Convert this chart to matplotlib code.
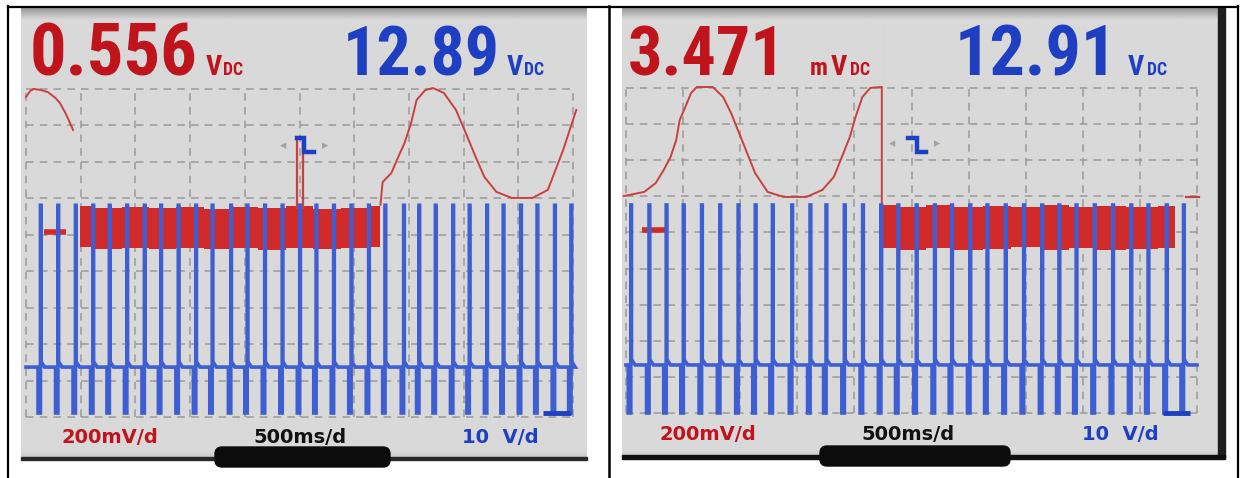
import numpy as np
import matplotlib
matplotlib.use("Agg")
import matplotlib.pyplot as plt
from matplotlib.patches import Rectangle, FancyBboxPatch
from matplotlib.textpath import TextPath
from matplotlib.font_manager import FontProperties, fontManager, weight_dict

# ---------------- data ----------------
TIME_PER_DIV = 0.5      # s / div
CH1_PER_DIV = 200.0     # mV / div (red channel)
CH2_PER_DIV = 10.0      # V / div (blue channel)
N_DIV_X, N_DIV_Y = 10, 9

left_ch1_reading = "0.556"
left_ch2_reading = "12.89"
right_ch1_reading = "3.471"
right_ch2_reading = "12.91"
scale_labels = ["200mV/d", "500ms/d", "10  V/d"]

# blue channel: times (s) of the injector events
left_events = [0.11, 0.27, 0.43, 0.59, 0.74, 0.90, 1.06, 1.21, 1.37, 1.53, 1.68,
               1.85, 2.00, 2.16, 2.32, 2.48, 2.63, 2.79, 2.95, 3.11, 3.26, 3.43,
               3.57, 3.72, 3.88, 4.03, 4.19, 4.34, 4.50, 4.65, 4.81, 4.96]
right_events = [0.02, 0.18, 0.33, 0.48, 0.64, 0.80, 0.96, 1.11, 1.26, 1.43, 1.59,
                1.73, 1.89, 2.05, 2.21, 2.36, 2.52, 2.68, 2.83, 2.99, 3.14, 3.30,
                3.46, 3.62, 3.77, 3.92, 4.08, 4.24, 4.40, 4.55, 4.71, 4.86]
left_blue_levels = (12.6, 57.0, 0.0)    # rest, spike top, low (V)
right_blue_levels = (13.3, 57.6, 0.0)

# red channel traces (s, mV)
left_red_arc_t = [0.00, 0.04, 0.07, 0.13, 0.20, 0.27, 0.31, 0.36, 0.39, 0.43]
left_red_arc_mv = [741, 775, 785, 780, 768, 735, 708, 653, 615, 560]
left_red_sine_t = [3.24, 3.26, 3.34, 3.39, 3.46, 3.52, 3.57, 3.65, 3.72, 3.82,
                   3.93, 4.02, 4.11, 4.19, 4.30, 4.44, 4.63, 4.77, 4.91, 5.03]
left_red_sine_mv = [150, 274, 324, 395, 488, 598, 724, 779, 790, 763,
                    670, 543, 412, 302, 220, 187, 187, 231, 450, 670]
left_band_t = [0.49, 0.75, 1.00, 1.25, 1.50, 1.75, 2.00, 2.25, 2.50, 2.75, 3.00, 3.24]
left_band_top = [140, 132, 138, 130, 136, 128, 137, 131, 140, 126, 133, 140]
left_band_bot = [-80, -92, -86, -96, -88, -93, -86, -100, -90, -96, -88, -84]
left_spike_t = [2.48, 2.48, 2.53, 2.53]
left_spike_mv = [130, 521, 521, 130]

right_red_t = [-0.02, 0.16, 0.26, 0.33, 0.39, 0.44, 0.47, 0.52, 0.57, 0.62, 0.76,
               0.85, 0.92, 0.99, 1.06, 1.13, 1.24, 1.38, 1.58, 1.72, 1.82, 1.89,
               1.96, 2.01, 2.07, 2.14, 2.23, 2.24, 2.24]
right_red_mv = [188, 211, 260, 332, 404, 499, 609, 682, 759, 792, 792,
                737, 648, 537, 427, 316, 211, 183, 183, 222, 294, 404,
                515, 626, 737, 787, 792, 792, 139]
right_band_t = [2.24, 2.50, 2.75, 3.00, 3.25, 3.50, 3.75, 4.00, 4.25, 4.50, 4.81]
right_band_top = [139, 128, 136, 125, 134, 127, 138, 126, 133, 128, 135]
right_band_bot = [-100, -110, -98, -112, -104, -96, -108, -100, -112, -104, -98]
right_red_tail_t = [4.90, 5.02]
right_red_tail_mv = [183, 183]

# ---------------- styling ----------------
W, H = 1241, 478
RED_TXT = '#c0141d'
BLUE_TXT = '#1f3fc2'
RED_TRACE = '#c9403f'
RED_BAND = '#d02a2a'
BLUE_TRACE = '#3e5ed3'
GRID = '#9a9a9a'

SANS_FAMILIES = ('DejaVu Sans', 'Liberation Sans', 'Noto Sans', 'Roboto', 'Open Sans', 'Lato', 'Inter')


def best_bold(sample="0.556", target_ratio=3.1):
    best = None
    for f in fontManager.ttflist:
        name = f.name
        if not name.startswith(SANS_FAMILIES):
            continue
        low = name.lower()
        if 'mono' in low or 'cjk' in low or 'serif' in low or 'display' in low:
            continue
        w = f.weight if isinstance(f.weight, (int, float)) else weight_dict.get(f.weight, 400)
        if w < 700 or w > 800 or f.style != 'normal':
            continue
        try:
            ext = TextPath((0, 0), sample, size=100, prop=FontProperties(fname=f.fname)).get_extents()
        except Exception:
            continue
        if ext.height <= 0 or ext.width <= 0:
            continue
        r = ext.width / ext.height
        score = abs(r - target_ratio)
        if best is None or score < best[0]:
            best = (score, f.fname)
    return FontProperties(fname=best[1]) if best else FontProperties(family='DejaVu Sans', weight='bold')


NARROW = best_bold()


def fit_size(s, width_px, height_px, prop):
    ext = TextPath((0, 0), s, size=100, prop=prop).get_extents()
    size_px = min(100 * width_px / ext.width, 100 * height_px / ext.height)
    return size_px * 0.72  # px -> pt at 100 dpi


fig = plt.figure(figsize=(W / 100, H / 100), dpi=100)
fig.patch.set_facecolor('white')
bg = fig.add_axes([0, 0, 1, 1])
bg.axis('off')


def screen_bg(x0, y0, x1, y1):
    n = int(y1 - y0)
    prof = np.full(n, 0.85)
    prof[:12] = np.linspace(0.60, 0.85, 12)
    prof[-8:] = np.linspace(0.85, 0.78, 8)
    img = np.repeat(prof[:, None], 2, axis=1)
    bg.imshow(img, cmap='gray', vmin=0, vmax=1, extent=(x0, x1, y1, y0),
              aspect='auto', interpolation='bilinear', zorder=1)


screen_bg(21, 8, 587, 459)
screen_bg(622, 8, 1218, 458)
bg.add_patch(Rectangle((1218, 8), 7, 450, color='#1e1e1e', zorder=2))
bg.add_patch(Rectangle((21, 457), 566, 2.5, color='#2a2a2a', zorder=2))
bg.add_patch(Rectangle((622, 455), 603, 4, color='#111111', zorder=2))
for (x0, x1, y0) in [(215, 390, 447), (820, 1010, 446)]:
    bg.add_patch(FancyBboxPatch((x0, y0), x1 - x0, 20, boxstyle="round,pad=0,rounding_size=7",
                                color='#0c0c0c', zorder=3))
# table borders
bg.plot([7.5, 7.5], [6, 478], color='black', lw=1.6, zorder=5)
bg.plot([7.5, 1238], [6.5, 6.5], color='black', lw=1.6, zorder=5)
bg.plot([608.5, 608.5], [6, 478], color='black', lw=1.8, zorder=5)
bg.plot([1238, 1238], [6, 478], color='black', lw=1.6, zorder=5)
bg.set_xlim(0, W)
bg.set_ylim(H, 0)


def readout(x, s, width_px, color):
    bg.text(x, 75, s, color=color, fontproperties=NARROW,
            fontsize=fit_size(s, width_px, 53, NARROW), va='baseline', ha='left', zorder=6)


def unit(x, s, h_px, color):
    bg.text(x, 75, s, color=color, fontproperties=NARROW,
            fontsize=fit_size(s, 200, h_px, NARROW), va='baseline', ha='left', zorder=6)


# left readouts
readout(30, left_ch1_reading, 163, RED_TXT)
unit(206, "V", 20, RED_TXT)
unit(223, "DC", 13, RED_TXT)
readout(343, left_ch2_reading, 148, BLUE_TXT)
unit(507, "V", 20, BLUE_TXT)
unit(524, "DC", 13, BLUE_TXT)
# right readouts
readout(628, right_ch1_reading, 145, RED_TXT)
unit(810, "m", 13, RED_TXT)
unit(831, "V", 20, RED_TXT)
unit(850, "DC", 13, RED_TXT)
readout(955, right_ch2_reading, 146, BLUE_TXT)
unit(1128, "V", 20, BLUE_TXT)
unit(1147, "DC", 13, BLUE_TXT)

# bottom scale labels
LBL = dict(family='DejaVu Sans', fontweight='bold', fontsize=14, va='baseline', ha='center', zorder=6)
for cx, cy in [((110, 300, 500), 443), ((708, 908, 1120), 440)]:
    for x, lab, col in zip(cx, scale_labels, [RED_TXT, '#111111', BLUE_TXT]):
        bg.text(x, cy, lab, color=col, **LBL)


def screen_axes(x0, y0, x1, y1):
    ax = fig.add_axes([x0 / W, 1 - y1 / H, (x1 - x0) / W, (y1 - y0) / H])
    ax.patch.set_alpha(0)
    ax.axis('off')
    return ax


def blue_wave(events, levels, t_end):
    base, top, low = levels
    t, v = [0.0], [base]
    for e in events:
        t += [e, e, e + 0.022, e + 0.022, e + 0.028, e + 0.028, e + 0.06]
        v += [base, low, low, top, top, base + 1.5, base]
    t.append(t_end)
    v.append(base)
    return t, v


def build_screen(rect, red_zero_px, blue_zero_px):
    x0, y0, x1, y1 = rect
    hpx = y1 - y0
    tmax = N_DIV_X * TIME_PER_DIV
    g = screen_axes(*rect)
    g.set_xlim(0, tmax)
    g.set_ylim(0, N_DIV_Y)
    for i in range(N_DIV_X + 1):
        g.axvline(i * TIME_PER_DIV, color=GRID, lw=1.1, ls=(0, (5, 4)), zorder=1, clip_on=False)
    for j in range(N_DIV_Y + 1):
        g.axhline(j, color=GRID, lw=1.1, ls=(0, (5, 4)), zorder=1, clip_on=False)
    r = screen_axes(*rect)
    r.set_xlim(0, tmax)
    r.set_ylim(-(y1 - red_zero_px) / hpx * N_DIV_Y * CH1_PER_DIV,
               (red_zero_px - y0) / hpx * N_DIV_Y * CH1_PER_DIV)
    b = screen_axes(*rect)
    b.set_xlim(0, tmax)
    b.set_ylim(-(y1 - blue_zero_px) / hpx * N_DIV_Y * CH2_PER_DIV,
               (blue_zero_px - y0) / hpx * N_DIV_Y * CH2_PER_DIV)
    return g, r, b


# ---- left screen ----
gL, rL, bL = build_screen((26, 89, 573, 417), 232, 413)
rL.plot(left_red_arc_t, left_red_arc_mv, color=RED_TRACE, lw=1.4, clip_on=False)
rL.fill_between(left_band_t, left_band_bot, left_band_top, step='mid', color=RED_BAND, lw=0)
rL.plot(left_spike_t, left_spike_mv, color=RED_TRACE, lw=1.6)
rL.plot(left_red_sine_t, left_red_sine_mv, color=RED_TRACE, lw=1.4, clip_on=False)
rL.plot([0.165, 0.366], [0, 0], color=RED_BAND, lw=4, solid_capstyle='butt')
t, v = blue_wave(left_events, left_blue_levels, 5.0)
bL.plot(t, v, color=BLUE_TRACE, lw=2.6, clip_on=False, solid_joinstyle='miter')
bL.plot([4.73, 4.98], [0, 0], color='#1f3fc2', lw=3.5, solid_capstyle='butt', clip_on=False)

# ---- right screen ----
gR, rR, bR = build_screen((626, 88, 1197, 413), 230, 413)
rR.plot(right_red_t, right_red_mv, color=RED_TRACE, lw=1.4, clip_on=False)
rR.fill_between(right_band_t, right_band_bot, right_band_top, step='mid', color=RED_BAND, lw=0)
rR.plot(right_red_tail_t, right_red_tail_mv, color=RED_TRACE, lw=1.6, clip_on=False)
rR.plot([0.14, 0.37], [0, 0], color=RED_BAND, lw=4, solid_capstyle='butt')
t, v = blue_wave(right_events, right_blue_levels, 5.0)
bR.plot(t, v, color=BLUE_TRACE, lw=2.6, clip_on=False, solid_joinstyle='miter')
bR.plot([4.70, 4.94], [0, 0], color='#1f3fc2', lw=3.5, solid_capstyle='butt', clip_on=False)

# trigger icons (decoration, in page pixels)
TRIG_ICONS = [((297, 304, 314), (138, 152), (283, 325), 146),
              ((908, 917, 926), (138, 152), (892, 937), 144)]
for (xa, xb, xc), (ya, yb), (al, ar), ay in TRIG_ICONS:
    bR.plot([xa, xb, xb, xc], [ya, ya, yb, yb], color=BLUE_TXT, lw=3.2,
            transform=bg.transData, clip_on=False, solid_joinstyle='miter')
    bR.text(al, ay, "◂", color='#a2a2a2', fontsize=9, ha='center', va='center',
            transform=bg.transData)
    bR.text(ar, ay, "▸", color='#a2a2a2', fontsize=9, ha='center', va='center',
            transform=bg.transData)

fig.savefig("out.png", dpi=100, facecolor='white')
